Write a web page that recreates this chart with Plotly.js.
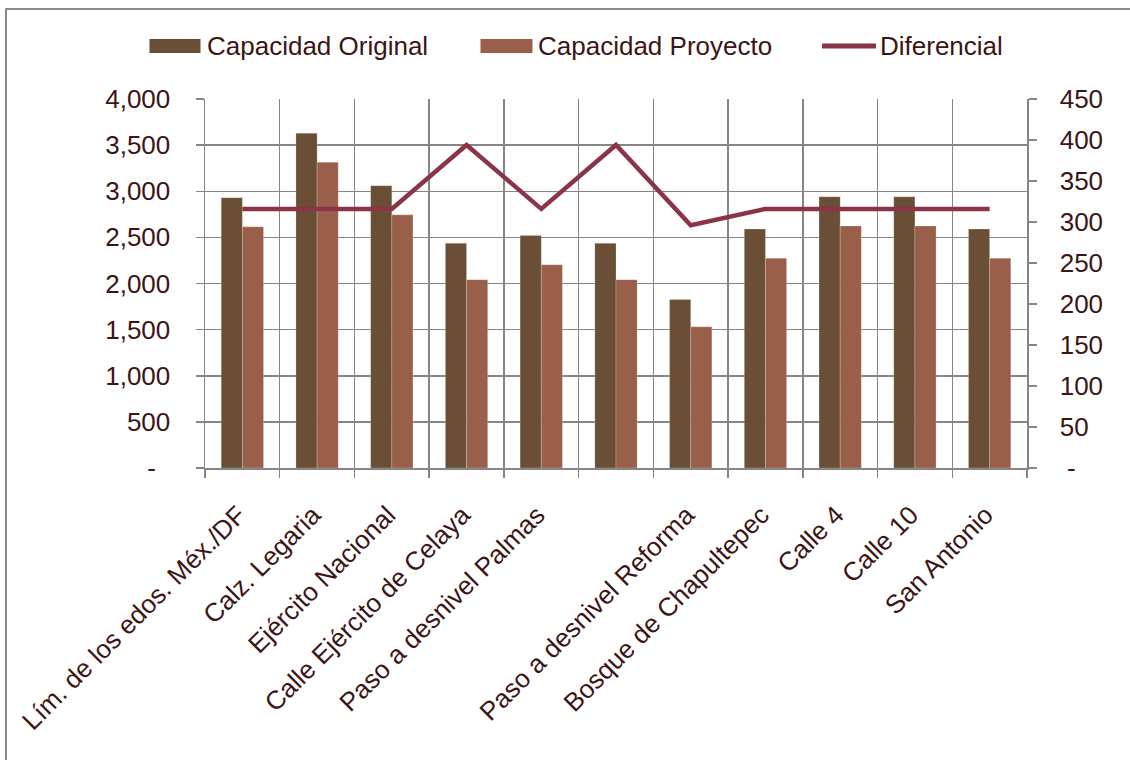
<!DOCTYPE html>
<html>
<head>
<meta charset="utf-8">
<script src="https://cdn.plot.ly/plotly-3.0.1.min.js"></script>
<style>
  html, body { margin: 0; padding: 0; background: #ffffff; }
  #chart { width: 1130px; height: 760px; }
</style>
</head>
<body>
<div id="chart"></div>
<script>
// Road segments along the corridor (the sixth segment has no label)
const categories = [
  "Lím. de los edos. Méx./DF",
  "Calz. Legaria",
  "Ejército Nacional",
  "Calle Ejército de Celaya",
  "Paso a desnivel Palmas",
  "",
  "Paso a desnivel Reforma",
  "Bosque de Chapultepec",
  "Calle 4",
  "Calle 10",
  "San Antonio"
];

const seriesNames = ["Capacidad Original", "Capacidad Proyecto", "Diferencial"];

const capacidadOriginal = [2930, 3630, 3060, 2436, 2520, 2436, 1826, 2590, 2940, 2940, 2590];
const capacidadProyecto = [2614, 3314, 2744, 2042, 2204, 2042, 1530, 2274, 2624, 2624, 2274];
const diferencial       = [316, 316, 316, 394, 316, 394, 296, 316, 316, 316, 316];

const leftTickValues  = [0, 500, 1000, 1500, 2000, 2500, 3000, 3500, 4000];
const leftTickLabels  = ["-\u00a0\u00a0", "500", "1,000", "1,500", "2,000", "2,500", "3,000", "3,500", "4,000"];
const rightTickValues = [0, 50, 100, 150, 200, 250, 300, 350, 400, 450];
const rightTickLabels = ["\u00a0-", "50", "100", "150", "200", "250", "300", "350", "400", "450"];

// Palette and type
const COL_ORIGINAL = "#6A4E35";
const COL_PROYECTO = "#9A5F4B";
const COL_DIF      = "#8C3447";
const COL_TEXT     = "#3D1414";
const COL_GRID     = "#868686";
const FONT = "Liberation Sans, Arial, sans-serif";
const FS = 26;

// Plot geometry (pixels)
const W = 1130, H = 760;
const M = { l: 205, r: 103, t: 99, b: 292 };
const plotW = W - M.l - M.r;
const plotH = H - M.t - M.b;
const px = x => (x - M.l) / plotW;        // page x -> paper x
const py = y => 1 - (y - M.t) / plotH;    // page y -> paper y

// A blank category still needs a distinct key on the category axis
const xKeys = categories.map(c => c === "" ? "\u200b" : c);

const traces = [
  {
    type: "bar",
    name: seriesNames[0],
    x: xKeys,
    y: capacidadOriginal,
    marker: { color: COL_ORIGINAL, line: { width: 0.6, color: "rgba(255,255,255,0.35)" } },
    showlegend: false,
    hoverinfo: "skip"
  },
  {
    type: "bar",
    name: seriesNames[1],
    x: xKeys,
    y: capacidadProyecto,
    marker: { color: COL_PROYECTO, line: { width: 0.6, color: "rgba(255,255,255,0.35)" } },
    showlegend: false,
    hoverinfo: "skip"
  },
  {
    type: "scatter",
    mode: "lines",
    name: seriesNames[2],
    x: xKeys,
    y: diferencial,
    yaxis: "y2",
    line: { color: COL_DIF, width: 4.5 },
    showlegend: false,
    hoverinfo: "skip"
  }
];

// Legend row drawn as swatches + labels across the top
const legendItems = [
  { name: seriesNames[0], kind: "box",  color: COL_ORIGINAL, x0: 149.5, x1: 200.5, tx: 205 },
  { name: seriesNames[1], kind: "box",  color: COL_PROYECTO, x0: 480.5, x1: 532.5, tx: 536 },
  { name: seriesNames[2], kind: "line", color: COL_DIF,      x0: 822,   x1: 876,   tx: 878 }
];
const legendY = 46;

const shapes = [];
const annotations = [];
legendItems.forEach(it => {
  if (it.kind === "box") {
    shapes.push({
      type: "rect", xref: "paper", yref: "paper",
      x0: px(it.x0), x1: px(it.x1), y0: py(legendY - 7), y1: py(legendY + 7),
      fillcolor: it.color, line: { width: 0 }
    });
  } else {
    shapes.push({
      type: "line", xref: "paper", yref: "paper",
      x0: px(it.x0), x1: px(it.x1), y0: py(legendY), y1: py(legendY),
      line: { color: it.color, width: 5 }
    });
  }
  annotations.push({
    xref: "paper", yref: "paper",
    x: px(it.tx), y: py(legendY),
    xanchor: "left", yanchor: "middle",
    text: it.name, showarrow: false,
    font: { family: FONT, size: FS, color: COL_TEXT }
  });
});

// Outer frame line on the left and top
shapes.push({
  type: "path", xref: "paper", yref: "paper",
  path: `M ${px(6)} ${py(H + 10)} L ${px(6)} ${py(9)} L ${px(W + 10)} ${py(9)}`,
  line: { color: "#8A8A8A", width: 2 }
});

const layout = {
  width: W,
  height: H,
  margin: M,
  paper_bgcolor: "#ffffff",
  plot_bgcolor: "#ffffff",
  barmode: "group",
  bargap: 0.434,
  bargroupgap: 0,
  showlegend: false,
  font: { family: FONT, size: FS, color: COL_TEXT },
  xaxis: {
    type: "category",
    tickson: "boundaries",
    ticks: "outside",
    ticklen: 8,
    tickwidth: 1.5,
    tickcolor: COL_GRID,
    showgrid: true,
    gridcolor: COL_GRID,
    gridwidth: 1.5,
    showline: true,
    linecolor: COL_GRID,
    linewidth: 1.5,
    tickangle: -45,
    ticklabelstandoff: 20,
    ticklabelshift: -4,
    tickfont: { family: FONT, size: FS, color: COL_TEXT },
    automargin: false
  },
  yaxis: {
    range: [0, 4000],
    tickmode: "array",
    tickvals: leftTickValues,
    ticktext: leftTickLabels,
    ticks: "outside",
    ticklen: 8,
    tickwidth: 1.5,
    tickcolor: COL_GRID,
    showgrid: true,
    gridcolor: COL_GRID,
    gridwidth: 1.5,
    showline: true,
    linecolor: COL_GRID,
    linewidth: 1.5,
    zeroline: false,
    ticklabelstandoff: 20,
    tickfont: { family: FONT, size: FS, color: COL_TEXT },
    automargin: false
  },
  yaxis2: {
    overlaying: "y",
    side: "right",
    range: [0, 450],
    tickmode: "array",
    tickvals: rightTickValues,
    ticktext: rightTickLabels,
    ticks: "outside",
    ticklen: 8,
    tickwidth: 1.5,
    tickcolor: COL_GRID,
    showgrid: false,
    showline: true,
    linecolor: COL_GRID,
    linewidth: 1.5,
    zeroline: false,
    ticklabelstandoff: 18,
    tickfont: { family: FONT, size: FS, color: COL_TEXT },
    automargin: false
  },
  shapes: shapes,
  annotations: annotations
};

Plotly.newPlot("chart", traces, layout, { staticPlot: true, displayModeBar: false });
</script>
</body>
</html>
